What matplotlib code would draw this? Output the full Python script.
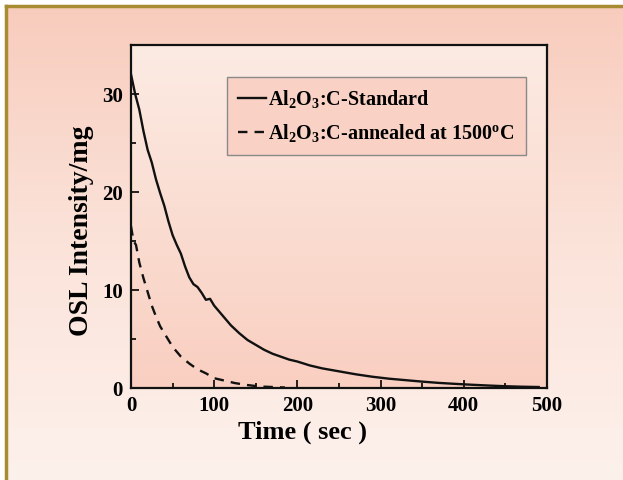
import numpy as np
import matplotlib
matplotlib.use("Agg")
import matplotlib.pyplot as plt
from matplotlib.colors import LinearSegmentedColormap

# OSL decay curves
t_std = [0, 2, 5, 10, 15, 20, 25, 30, 35, 40, 45, 50, 55, 60, 65, 70, 75, 80,
         85, 90, 95, 100, 110, 120, 130, 140, 150, 160, 170, 180, 190, 200,
         215, 230, 250, 270, 290, 310, 330, 350, 370, 390, 410, 430, 450,
         470, 490]
osl_std = [32.0, 31.2, 30.0, 28.4, 26.2, 24.3, 23.0, 21.3, 19.9, 18.6, 17.0,
           15.6, 14.6, 13.7, 12.4, 11.3, 10.6, 10.3, 9.7, 9.0, 9.1, 8.4, 7.4,
           6.4, 5.6, 4.9, 4.4, 3.9, 3.5, 3.2, 2.9, 2.7, 2.3, 2.0, 1.7, 1.4,
           1.15, 0.95, 0.8, 0.65, 0.52, 0.42, 0.33, 0.25, 0.18, 0.13, 0.1]

t_ann = [0, 3, 6, 10, 15, 20, 25, 30, 35, 40, 50, 60, 70, 80, 90, 100, 110,
         125, 140, 155, 170, 185]
osl_ann = [16.5, 15.0, 14.6, 12.8, 11.2, 9.8, 8.4, 7.3, 6.3, 5.6, 4.2, 3.2,
           2.5, 1.9, 1.5, 1.0, 0.8, 0.5, 0.3, 0.15, 0.1, 0.05]

labels = ["Al$_2$O$_3$:C-Standard", "Al$_2$O$_3$:C-annealed at 1500$^{\\rm o}$C"]

plt.rcParams['font.family'] = 'Liberation Serif'
plt.rcParams['font.weight'] = 'bold'
plt.rcParams['mathtext.fontset'] = 'custom'
plt.rcParams['mathtext.rm'] = 'Liberation Serif:bold'
plt.rcParams['mathtext.it'] = 'Liberation Serif:italic:bold'
plt.rcParams['mathtext.bf'] = 'Liberation Serif:bold'

fig = plt.figure(figsize=(6.23, 4.80), dpi=100)
fig.patch.set_facecolor('white')

# page background gradient with gold frame on top/left
bg = fig.add_axes([6 / 623, 0, 1 - 6 / 623, 1 - 6 / 480], zorder=-10)
bg_cmap = LinearSegmentedColormap.from_list('bg', ['#f8ccbd', '#fbe3da', '#fdf1ec'])
bg.imshow(np.linspace(0, 1, 256).reshape(-1, 1), cmap=bg_cmap, aspect='auto',
          extent=[0, 1, 0, 1])
bg.set_xlim(0, 1)
bg.set_ylim(0, 1)
bg.plot([0, 1], [1, 1], color='#a88c32', lw=2.5, clip_on=False)
bg.plot([0, 0], [0, 1], color='#a88c32', lw=2.5, clip_on=False)
bg.axis('off')

ax = fig.add_axes([131 / 623, 1 - 388 / 480, 416 / 623, 343 / 480])
ax_cmap = LinearSegmentedColormap.from_list('ax', ['#fcebe3', '#f9cfc1'])
ax.imshow(np.linspace(0, 1, 256).reshape(-1, 1), cmap=ax_cmap, aspect='auto',
          extent=[0, 500, 0, 35], zorder=0)

ax.plot(t_std, osl_std, color='#111111', lw=1.7, label=labels[0], zorder=3)
ax.plot(t_ann, osl_ann, color='#111111', lw=1.7, ls=(0, (4, 3)),
        label=labels[1], zorder=3)

ax.set_xlim(0, 500)
ax.set_ylim(0, 35)
ax.set_xticks([0, 100, 200, 300, 400, 500])
ax.set_yticks([0, 10, 20, 30])
ax.set_xticks(np.arange(50, 500, 100), minor=True)
ax.set_yticks([5, 15, 25], minor=True)
ax.tick_params(which='both', direction='in', labelsize=15, width=1.2)
ax.tick_params(which='major', length=6, pad=6)
ax.tick_params(which='minor', length=3.5)
for s in ax.spines.values():
    s.set_linewidth(1.6)
    s.set_color('#111111')

ax.set_xlabel("Time ( sec )", fontsize=19, fontweight='bold')
ax.xaxis.set_label_coords((303 - 131) / 416, -44 / 343)
ax.xaxis.label.set_va('center')
ax.set_ylabel("OSL Intensity/mg", fontsize=20, fontweight='bold')
ax.yaxis.set_label_coords(-50 / 416, (388 - 231) / 343)
ax.yaxis.label.set_va('center')

leg = ax.legend(loc='upper left', bbox_to_anchor=(0.231, 0.907), fontsize=14.5,
                frameon=True, fancybox=False, handlelength=1.4, handletextpad=0.1,
                labelspacing=0.6, borderpad=0.55, borderaxespad=0)
leg.get_frame().set_facecolor('#f9d2c5')
leg.get_frame().set_edgecolor('#8a8a8a')
leg.get_frame().set_linewidth(1.0)
leg.get_frame().set_alpha(1)

fig.savefig("out.png", dpi=100)
